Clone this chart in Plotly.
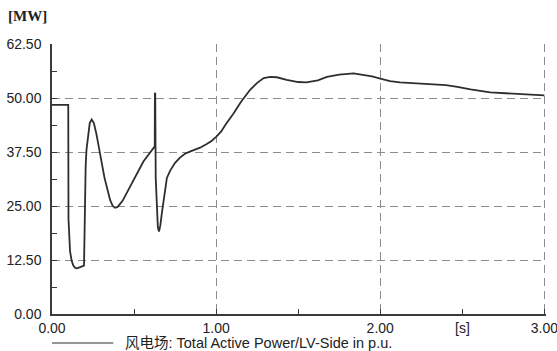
import plotly.graph_objects as go

# time [s]
t = [0.0, 0.099, 0.1005, 0.105, 0.11, 0.12, 0.13, 0.14, 0.15, 0.16, 0.175, 0.19, 0.195,
     0.198, 0.201, 0.205, 0.21, 0.22, 0.23, 0.242, 0.255, 0.27, 0.293, 0.32, 0.354, 0.37,
     0.384, 0.40, 0.43, 0.476, 0.52, 0.557, 0.59, 0.62, 0.626, 0.627, 0.629, 0.632, 0.638,
     0.645, 0.652, 0.66, 0.67, 0.68, 0.69, 0.70, 0.72, 0.75, 0.78, 0.81, 0.84, 0.88, 0.902,
     0.94, 0.97, 1.00, 1.03, 1.06, 1.106, 1.15, 1.207, 1.25, 1.29, 1.33, 1.37, 1.43, 1.50,
     1.55, 1.62, 1.675, 1.75, 1.837, 1.90, 1.95, 2.00, 2.06, 2.12, 2.20, 2.325, 2.40, 2.47,
     2.55, 2.67, 2.80, 2.90, 3.00]
# Total active power [MW]
p = [48.4, 48.4, 22.0, 17.0, 14.5, 12.3, 11.2, 10.7, 10.6, 10.7, 10.9, 11.0, 11.2,
     18.0, 28.0, 34.0, 38.0, 42.0, 44.2, 45.0, 44.2, 41.8, 37.2, 31.5, 26.4, 25.0,
     24.6, 24.8, 26.2, 29.5, 33.0, 35.3, 37.0, 38.5, 38.8, 51.2, 51.0, 31.5, 24.0,
     20.0, 19.1, 20.5, 23.5, 26.5, 29.5, 31.5, 33.2, 35.0, 36.2, 37.1, 37.6, 38.2, 38.5,
     39.3, 40.0, 41.0, 42.2, 44.0, 46.4, 49.0, 51.9, 53.5, 54.6, 54.9, 54.8, 54.2, 53.7,
     53.6, 54.1, 54.9, 55.4, 55.7, 55.4, 55.0, 54.5, 53.9, 53.6, 53.4, 53.2, 53.0, 52.6,
     52.0, 51.3, 51.0, 50.8, 50.6]

x_ticks = [0, 1, 2, 3]
x_tick_labels = ["0.00", "1.00", "2.00", "3.00"]
y_ticks = [0, 12.5, 25, 37.5, 50, 62.5]
y_tick_labels = ["0.00", "12.50", "25.00", "37.50", "50.00", "62.50"]
series_name = "风电场: Total Active Power/LV-Side in p.u."

FONT = "Liberation Sans, Arial, Noto Sans CJK SC, sans-serif"
LINE = "#2e2e2e"
GRID = "#8c8c8c"
AX = "#3a3a3a"
FS = 14
DASH = "8px,5px"

fig = go.Figure()
fig.add_trace(go.Scatter(x=t, y=p, mode="lines", name=series_name,
                         line=dict(color=LINE, width=1.8), showlegend=False))

fig.update_layout(
    width=557, height=351,
    margin=dict(l=52, r=11, t=44, b=37, autoexpand=False),
    paper_bgcolor="white", plot_bgcolor="white",
    font=dict(family=FONT, size=FS, color="#222"),
    xaxis=dict(range=[0, 3.01], tickvals=x_ticks, ticktext=x_tick_labels, automargin=False,
               showgrid=True, gridcolor=GRID, griddash=DASH, gridwidth=1,
               showline=True, linecolor=AX, linewidth=1.5,
               ticks="inside", ticklen=5, tickcolor=AX, ticklabeloverflow="allow",
               minor=dict(dtick=0.5, ticks="inside", ticklen=5, tickcolor=AX, showgrid=False),
               zeroline=False, tickfont=dict(size=FS, family=FONT)),
    yaxis=dict(range=[0, 62.5], tickvals=y_ticks, ticktext=y_tick_labels, automargin=False,
               showgrid=True, gridcolor=GRID, griddash=DASH, gridwidth=1,
               showline=True, linecolor=AX, linewidth=1.5,
               ticks="inside", ticklen=5, tickcolor=AX, ticklabeloverflow="allow",
               minor=dict(dtick=6.25, ticks="inside", ticklen=5, tickcolor=AX, showgrid=False),
               zeroline=False, ticklabelstandoff=6, tickfont=dict(size=FS, family=FONT)),
)

# unit labels
fig.add_annotation(text="<b>[MW]</b>", xref="paper", yref="paper", x=0, y=1,
                   xshift=-46, yshift=18, xanchor="left", yanchor="bottom", showarrow=False,
                   font=dict(family="Liberation Serif, Times New Roman, serif", size=15, color="#222"))
fig.add_annotation(text="[s]", xref="x", yref="paper", x=2.5, y=0, yshift=-4,
                   xanchor="center", yanchor="top", showarrow=False,
                   font=dict(family=FONT, size=FS, color="#222"))

# legend (drawn manually)
fig.add_shape(type="line", xref="paper", yref="paper", x0=0, x1=0.124, y0=0, y1=0,
              line=dict(color=LINE, width=1.2))
fig.update_shapes(ysizemode="pixel", yanchor=0, y0=-29, y1=-29)
fig.add_annotation(text=series_name, xref="paper", yref="paper", x=0.144, y=0, yshift=-29,
                   xanchor="left", yanchor="middle", showarrow=False,
                   font=dict(family=FONT, size=14.5, color="#222"))

fig.write_html("out.html", config={"displayModeBar": False},
               post_script="document.body.style.margin='0';document.body.style.overflow='hidden';")
